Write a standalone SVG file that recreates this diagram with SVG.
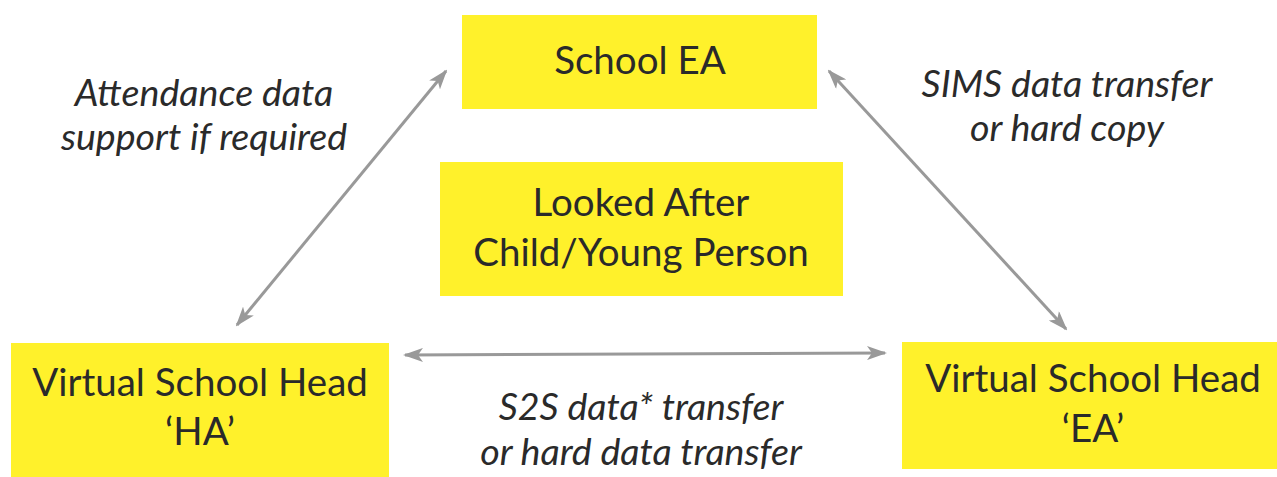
<svg xmlns="http://www.w3.org/2000/svg" width="1277" height="477" viewBox="0 0 1277 477">
<style>
.box{fill:#FFF12B;}
.t{font-family:Lato,"Open Sans","Liberation Sans",sans-serif;font-size:38.5px;fill:#2a2a2a;text-anchor:middle;}
.l{font-family:Lato,"Open Sans","Liberation Sans",sans-serif;font-size:37.6px;font-style:italic;fill:#2a2a2a;text-anchor:middle;}
.c{stroke:#999;stroke-width:3;fill:none;marker-start:url(#a);marker-end:url(#a);}
</style>
<defs>
<marker id="a" viewBox="0 0 20 14" refX="18" refY="7" markerWidth="20" markerHeight="14" markerUnits="userSpaceOnUse" orient="auto-start-reverse">
<path d="M0,0 L20,7 L0,14 L5,7 Z" fill="#999"/>
</marker>
</defs>
<rect width="1277" height="477" fill="#fff"/>
<g id="connectors">
<line class="c" x1="237" y1="325" x2="446" y2="71"/>
<line class="c" x1="829" y1="71" x2="1066" y2="329"/>
<line class="c" x1="405" y1="355" x2="885" y2="353"/>
</g>
<g id="school-ea">
<rect class="box" x="462" y="15" width="355" height="94"/>
<text class="t" x="640" y="74">School EA</text>
</g>
<g id="lac">
<rect class="box" x="440" y="162" width="403" height="134"/>
<text class="t" x="641" y="216">Looked After</text>
<text class="t" x="641" y="266">Child/Young Person</text>
</g>
<g id="vsh-ha">
<rect class="box" x="11" y="343" width="378" height="134"/>
<text class="t" x="200" y="396">Virtual School Head</text>
<text class="t" x="200" y="445">‘HA’</text>
</g>
<g id="vsh-ea">
<rect class="box" x="902" y="342" width="375" height="127"/>
<text class="t" x="1093" y="392">Virtual School Head</text>
<text class="t" x="1093" y="442">‘EA’</text>
</g>
<g id="labels">
<text class="l" x="204" y="106">Attendance data</text>
<text class="l" x="204" y="150">support if required</text>
<text class="l" x="1067" y="97">SIMS data transfer</text>
<text class="l" x="1067" y="141">or hard copy</text>
<text class="l" x="641" y="420">S2S data* transfer</text>
<text class="l" x="641" y="465">or hard data transfer</text>
</g>
</svg>
